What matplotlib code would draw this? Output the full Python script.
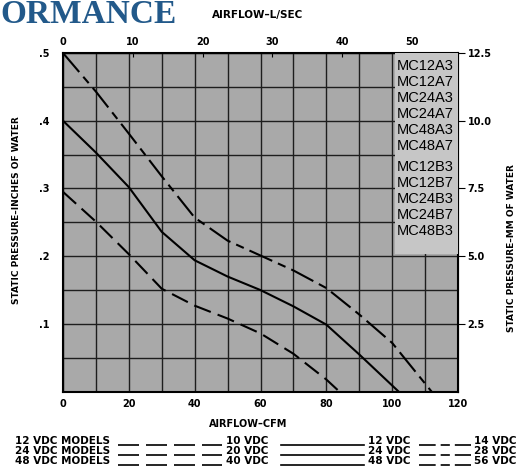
import matplotlib.pyplot as plt
import numpy as np
from matplotlib.lines import Line2D
from matplotlib.patches import Rectangle

# airflow (CFM) vs static pressure (in. of water)
cfm_low = [0, 10, 20, 30, 40, 50, 60, 70, 80, 84]
p_low = [0.295, 0.251, 0.203, 0.152, 0.127, 0.108, 0.086, 0.056, 0.018, 0.0]

cfm_nom = [0, 10, 20, 30, 40, 50, 60, 70, 80, 90, 102]
p_nom = [0.400, 0.353, 0.302, 0.236, 0.194, 0.170, 0.150, 0.126, 0.099, 0.055, 0.0]

cfm_high = [0, 10, 20, 30, 40, 50, 60, 70, 80, 90, 100, 112]
p_high = [0.500, 0.443, 0.381, 0.318, 0.257, 0.223, 0.201, 0.179, 0.153, 0.114, 0.072, 0.0]

models_a = ['MC12A3', 'MC12A7', 'MC24A3', 'MC24A7', 'MC48A3', 'MC48A7']
models_b = ['MC12B3', 'MC12B7', 'MC24B3', 'MC24B7', 'MC48B3']

rows = ['12 VDC MODELS', '24 VDC MODELS', '48 VDC MODELS']
v_low = ['10 VDC', '20 VDC', '40 VDC']
v_nom = ['12 VDC', '24 VDC', '48 VDC']
v_high = ['14 VDC', '28 VDC', '56 VDC']

CFM_PER_LS = 2.119

W, H = 531, 471
fig = plt.figure(figsize=(W / 100, H / 100), dpi=100)
ax = fig.add_axes([63 / W, 1 - 391.7 / H, 395 / W, 338.7 / H])
ax.set_facecolor('#a9a9a9')

dash_low = (0, (8.5, 3.5))
dash_high = (0, (12, 3, 4, 3))
ax.plot(cfm_low, p_low, color='black', lw=1.5, linestyle=dash_low, zorder=4)
ax.plot(cfm_nom, p_nom, color='black', lw=1.5, zorder=4)
ax.plot(cfm_high, p_high, color='black', lw=1.5, linestyle=dash_high, zorder=4)

ax.set_xlim(0, 120)
ax.set_ylim(0, 0.5)
ax.set_xticks(np.arange(0, 121, 20))
ax.set_xticks(np.arange(0, 121, 10), minor=True)
ax.set_yticks(np.arange(0.1, 0.51, 0.1))
ax.set_yticks(np.arange(0, 0.51, 0.05), minor=True)
ax.set_yticklabels(['.1', '.2', '.3', '.4', '.5'])
ax.grid(True, which='both', color='#1e1e1e', lw=1.0, zorder=1)
ax.set_axisbelow(True)
ax.tick_params(axis='both', which='both', length=0)
ax.tick_params(axis='x', pad=5)
ax.tick_params(axis='y', pad=10)
for lab in ax.get_xticklabels() + ax.get_yticklabels():
    lab.set_fontweight('bold')
    lab.set_fontsize(7)
for s in ax.spines.values():
    s.set_linewidth(1.5)

# model box
ax.add_patch(Rectangle((101, 0.203), 19, 0.297, facecolor='#c6c6c6',
                       edgecolor='none', zorder=3))
y = 0.481
for m in models_a:
    ax.text(101.5, y, m, fontsize=10.5, va='center', ha='left', zorder=5,
            family=['Liberation Sans', 'DejaVu Sans'])
    y -= 0.0236
y -= 0.0074
for m in models_b:
    ax.text(101.5, y, m, fontsize=10.5, va='center', ha='left', zorder=5,
            family=['Liberation Sans', 'DejaVu Sans'])
    y -= 0.0236

# top axis: L/sec
top = ax.secondary_xaxis('top', functions=(lambda x: x / CFM_PER_LS,
                                           lambda x: x * CFM_PER_LS))
top.set_xticks(np.arange(0, 51, 10))
top.tick_params(direction='in', length=3, pad=4)
for lab in top.get_xticklabels():
    lab.set_fontweight('bold')
    lab.set_fontsize(7)

# right axis: mm of water
right = ax.secondary_yaxis('right', functions=(lambda p: p * 25, lambda m: m / 25))
right.set_yticks([2.5, 5.0, 7.5, 10.0, 12.5])
right.set_yticklabels(['2.5', '5.0', '7.5', '10.0', '12.5'])
right.tick_params(direction='out', length=5, pad=2)
for lab in right.get_yticklabels():
    lab.set_fontweight('bold')
    lab.set_fontsize(7)

fig.text(17 / W, 1 - 210 / H, 'STATIC PRESSURE–INCHES OF WATER', rotation=90,
         ha='center', va='center', fontsize=6.5, fontweight='bold')
fig.text(512 / W, 1 - 248 / H, 'STATIC PRESSURE–MM OF WATER', rotation=90,
         ha='center', va='center', fontsize=6.5, fontweight='bold')
fig.text(248 / W, 1 - 424 / H, 'AIRFLOW–CFM', ha='center', va='center',
         fontsize=7, fontweight='bold')
fig.text(258 / W, 1 - 15 / H, 'AIRFLOW–L/SEC', ha='center', va='center',
         fontsize=7.5, fontweight='bold')
fig.text(0, 1 - 23 / H, 'ORMANCE', ha='left', va='baseline', fontsize=24,
         fontweight='bold', color='#22598a',
         family=['Liberation Serif', 'DejaVu Serif'])

# voltage legend
for i in range(3):
    yc = 1 - (441 + 10 * i) / H
    yl = 1 - (445 + 10 * i) / H
    kw = dict(va='center', ha='left', fontsize=7.5, fontweight='bold')
    fig.text(15 / W, yc, rows[i], **kw)
    fig.text(226 / W, yc, v_low[i], **kw)
    fig.text(368 / W, yc, v_nom[i], **kw)
    fig.text(474 / W, yc, v_high[i], **kw)
    fig.add_artist(Line2D([118 / W, 222 / W], [yl, yl], color='black', lw=1.2,
                          linestyle=(0, (12.6, 4.2))))
    fig.add_artist(Line2D([281 / W, 364 / W], [yl, yl], color='black', lw=1.2))
    fig.add_artist(Line2D([419 / W, 471 / W], [yl, yl], color='black', lw=1.2,
                          linestyle=(0, (10, 3, 5.5, 3))))

fig.savefig('out.png', dpi=100)
